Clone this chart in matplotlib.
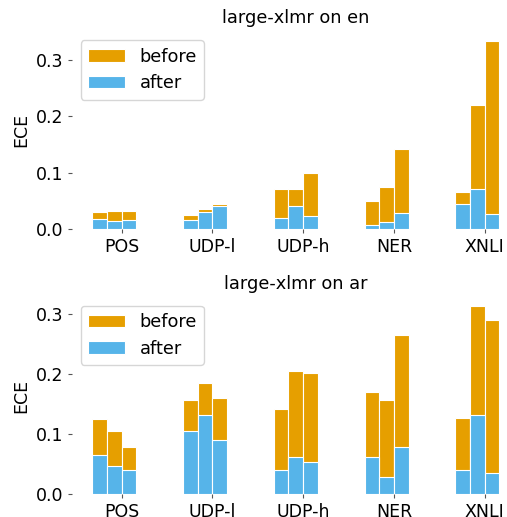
import numpy as np
import matplotlib
matplotlib.use('Agg')
import matplotlib.pyplot as plt

tasks = ['POS', 'UDP-l', 'UDP-h', 'NER', 'XNLI']

# ECE per task, three runs each: before / after calibration
en_before = [[0.030, 0.0325, 0.0325], [0.025, 0.0355, 0.045], [0.071, 0.071, 0.0995],
             [0.050, 0.0746, 0.142], [0.0657, 0.220, 0.334]]
en_after = [[0.018, 0.014, 0.0165], [0.0165, 0.031, 0.0414], [0.020, 0.0414, 0.0237],
            [0.0071, 0.013, 0.0284], [0.045, 0.071, 0.0272]]
ar_before = [[0.1248, 0.1048, 0.0782], [0.1564, 0.1847, 0.1597], [0.1414, 0.2047, 0.2013],
             [0.1697, 0.1564, 0.2646], [0.1265, 0.3128, 0.2895]]
ar_after = [[0.0649, 0.0471, 0.0405], [0.1048, 0.1314, 0.0904], [0.0405, 0.0616, 0.0538],
            [0.0616, 0.0283, 0.0782], [0.0405, 0.1314, 0.0349]]

orange = '#E69F00'
blue = '#56B4E9'
w = 0.162


def draw(ax, before, after, title):
    x = np.arange(len(tasks))
    before = np.array(before)
    after = np.array(after)
    for j, off in enumerate([-1.5, -0.5, 0.5]):
        ax.bar(x + off * w, before[:, j], w, color=orange, edgecolor='white',
               linewidth=0.8, label='before' if j == 0 else None)
    for j, off in enumerate([-1.5, -0.5, 0.5]):
        ax.bar(x + off * w, after[:, j], w, color=blue, edgecolor='white',
               linewidth=0.8, label='after' if j == 0 else None)
    ax.set_xticks(x)
    ax.set_xticklabels(tasks)
    ax.set_yticks([0.0, 0.1, 0.2, 0.3])
    ax.set_ylabel('ECE', fontsize=12.5)
    ax.set_title(title, fontsize=12.8)
    for s in ax.spines.values():
        s.set_visible(False)
    ax.tick_params(labelsize=12.5, color='#555555', length=3)
    ax.legend(loc='upper left', fontsize=12.8, handlelength=2.1)


fig = plt.figure(figsize=(5.07, 5.17), dpi=100)
ax1 = fig.add_axes([0.142, 0.557, 0.883, 0.382])
ax2 = fig.add_axes([0.142, 0.0445, 0.883, 0.381])

draw(ax1, en_before, en_after, 'large-xlmr on en')
draw(ax2, ar_before, ar_after, 'large-xlmr on ar')

fig.savefig('out.png', dpi=100)
